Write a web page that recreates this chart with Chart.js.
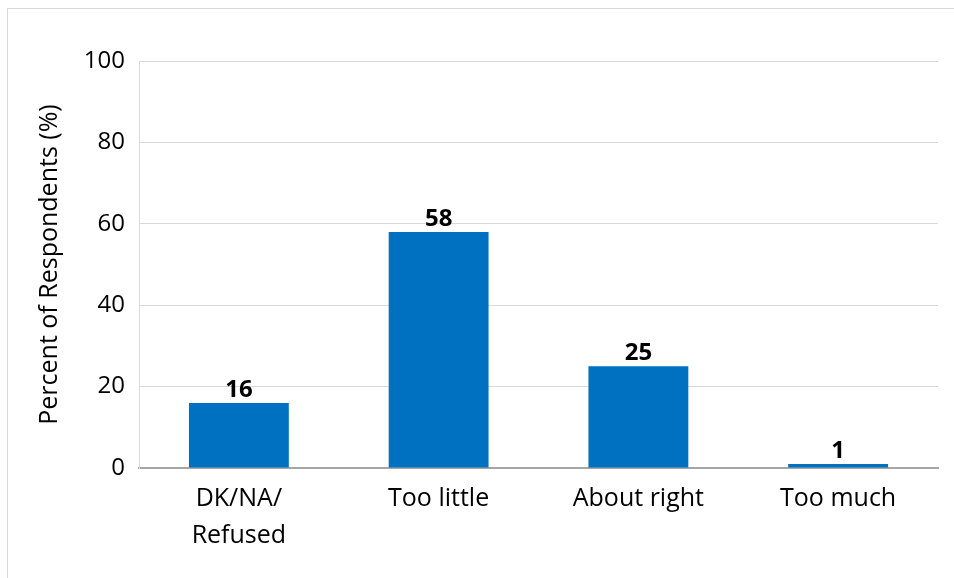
<!DOCTYPE html>
<html>
<head>
<meta charset="utf-8">
<script src="https://cdn.jsdelivr.net/npm/chart.js@4"></script>
<style>
  html, body { margin: 0; padding: 0; background: #fff; overflow: hidden; }
  #wrap { position: relative; width: 954px; height: 578px; overflow: hidden; }
  #frame { position: absolute; left: 7px; top: 8px; width: 960px; height: 600px;
           border-left: 1px solid #d9d9d9; border-top: 1px solid #d9d9d9; }
  canvas { position: absolute; left: 0; top: 0; }
</style>
</head>
<body>
<div id="wrap">
  <div id="frame"></div>
  <canvas id="myChart" width="954" height="578"></canvas>
</div>
<script>
const categories = [["DK/NA/", "Refused"], "Too little", "About right", "Too much"];
const percents = [16, 58, 25, 1];
const yTicks = [0, 20, 40, 60, 80, 100];

const fontFamily = "'Open Sans', 'Noto Sans', sans-serif";

// draws the value over each bar
const valueLabels = {
  id: "valueLabels",
  afterDatasetsDraw(chart) {
    const ctx = chart.ctx;
    const meta = chart.getDatasetMeta(0);
    ctx.save();
    ctx.font = "bold 24px " + fontFamily;
    ctx.fillStyle = "#000";
    ctx.textAlign = "center";
    ctx.textBaseline = "bottom";
    meta.data.forEach((bar, i) => {
      ctx.fillText(percents[i], bar.x, bar.y - 1);
    });
    ctx.restore();
  }
};

const ctx = document.getElementById("myChart");

new Chart(ctx, {
  type: "bar",
  data: {
    labels: categories,
    datasets: [
      {
        label: "Percent",
        data: percents,
        backgroundColor: "#0070c0",
        borderWidth: 0,
        barPercentage: 0.5,
        categoryPercentage: 1
      }
    ]
  },
  options: {
    responsive: false,
    animation: false,
    layout: { padding: { top: 61, right: 16, bottom: 0, left: 0 } },
    plugins: {
      legend: { display: false },
      tooltip: { enabled: false }
    },
    scales: {
      x: {
        grid: { display: false, drawTicks: false },
        border: { color: "#a6a6a6", width: 2 },
        ticks: {
          color: "#000",
          font: { family: fontFamily, size: 25, lineHeight: 1.45 },
          padding: 13,
          maxRotation: 0,
          autoSkip: false
        },
        afterFit(scale) { scale.height = 110; }
      },
      y: {
        min: 0,
        max: 100,
        afterBuildTicks(scale) { scale.ticks = yTicks.map(v => ({ value: v })); },
        grid: { color: "#d9d9d9", lineWidth: 1, drawTicks: false },
        border: { color: "#d9d9d9", width: 1 },
        ticks: {
          color: "#000",
          font: { family: fontFamily, size: 24 },
          padding: 14
        },
        title: {
          display: true,
          text: "Percent of Respondents (%)",
          color: "#000",
          font: { family: fontFamily, size: 25 },
          padding: { top: 35, bottom: 0 }
        },
        afterFit(scale) { scale.width = 139; }
      }
    }
  },
  plugins: [valueLabels]
});
</script>
</body>
</html>
